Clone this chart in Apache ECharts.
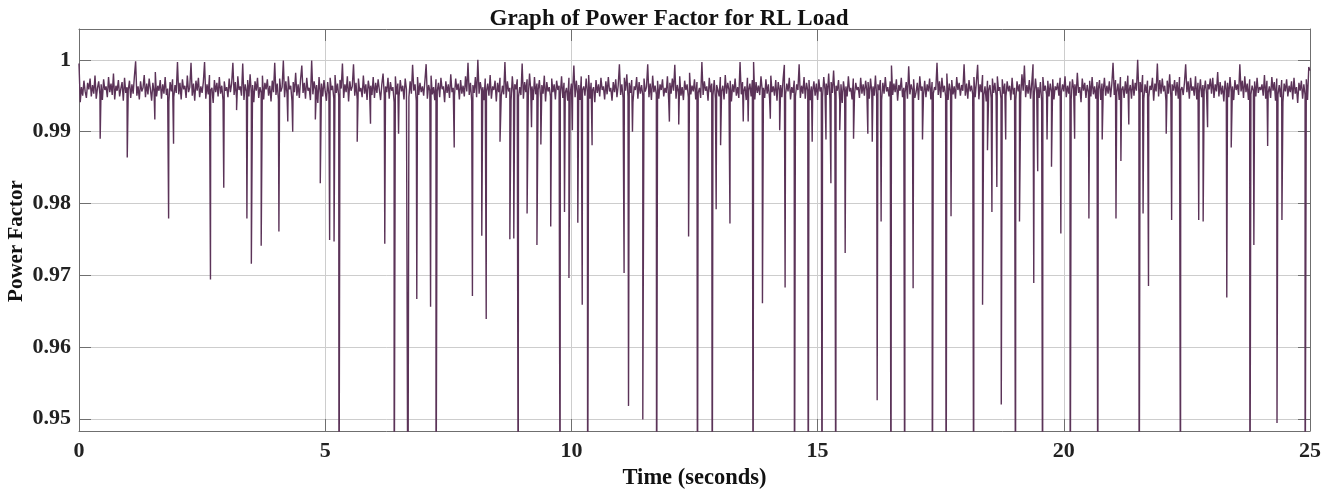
<!DOCTYPE html>
<html>
<head>
<meta charset="utf-8">
<script src="https://cdn.jsdelivr.net/npm/echarts@6/dist/echarts.min.js"></script>
<style>
html,body{margin:0;padding:0;background:#fff;}
#chart{width:1338px;height:493px;}
</style>
</head>
<body>
<div id="chart"></div>
<script>
// Sampling step of the baseline signal (seconds)
const baseStep = 0.025;

// Baseline power factor, one row per second (40 samples each)
const baseValues = [
0.9995,0.9941,0.9962,0.9950,0.9971,0.9956,0.9947,0.9968,0.9959,0.9974,0.9949,0.9965,0.9953,0.9978,0.9946,0.9961,0.9970,0.9952,0.9966,0.9944,0.9973,0.9958,0.9963,0.9948,0.9976,0.9955,0.9967,0.9951,0.9981,0.9945,0.9964,0.9957,0.9972,0.9949,0.9960,0.9969,0.9943,0.9975,0.9954,0.9962,
0.9958,0.9971,0.9947,0.9966,0.9953,0.9977,0.9998,0.9950,0.9963,0.9945,0.9970,0.9956,0.9961,0.9979,0.9948,0.9967,0.9952,0.9974,0.9959,0.9943,0.9968,0.9955,0.9983,0.9949,0.9964,0.9957,0.9972,0.9946,0.9966,0.9953,0.9976,0.9951,0.9960,0.9942,0.9969,0.9956,0.9973,0.9948,0.9965,0.9954,
0.9997,0.9952,0.9968,0.9945,0.9973,0.9959,0.9964,0.9947,0.9978,0.9955,0.9962,0.9996,0.9950,0.9967,0.9943,0.9971,0.9957,0.9975,0.9948,0.9963,0.9954,0.9969,0.9997,0.9946,0.9966,0.9952,0.9979,0.9958,0.9961,0.9940,0.9972,0.9955,0.9968,0.9949,0.9976,0.9953,0.9964,0.9944,0.9970,0.9957,
0.9962,0.9948,0.9974,0.9955,0.9967,0.9996,0.9951,0.9969,0.9946,0.9977,0.9958,0.9963,0.9950,0.9995,0.9944,0.9966,0.9956,0.9972,0.9949,0.9980,0.9953,0.9965,0.9941,0.9970,0.9957,0.9975,0.9947,0.9962,0.9954,0.9978,0.9945,0.9968,0.9959,0.9973,0.9950,0.9964,0.9942,0.9971,0.9955,0.9996,
0.9951,0.9967,0.9945,0.9974,0.9956,0.9962,0.9999,0.9948,0.9970,0.9953,0.9977,0.9959,0.9964,0.9943,0.9969,0.9955,0.9982,0.9950,0.9966,0.9947,0.9973,0.9992,0.9954,0.9968,0.9946,0.9975,0.9957,0.9961,0.9944,0.9999,0.9952,0.9970,0.9958,0.9965,0.9940,0.9976,0.9953,0.9967,0.9949,0.9972,
0.9956,0.9943,0.9969,0.9952,0.9975,0.9958,0.9964,0.9946,0.9979,0.9954,0.9967,0.9949,0.9972,0.9960,0.9995,0.9947,0.9966,0.9955,0.9977,0.9942,0.9970,0.9957,0.9963,0.9994,0.9950,0.9968,0.9945,0.9974,0.9956,0.9961,0.9948,0.9978,0.9953,0.9966,0.9944,0.9971,0.9959,0.9964,0.9951,0.9976,
0.9947,0.9968,0.9954,0.9973,0.9958,0.9944,0.9966,0.9981,0.9950,0.9963,0.9955,0.9975,0.9946,0.9969,0.9957,0.9962,0.9941,0.9977,0.9952,0.9967,0.9949,0.9972,0.9956,0.9964,0.9945,0.9974,0.9959,0.9961,0.9948,0.9970,0.9953,0.9993,0.9957,0.9966,0.9943,0.9976,0.9951,0.9968,0.9955,0.9963,
0.9950,0.9971,0.9994,0.9946,0.9965,0.9957,0.9978,0.9952,0.9962,0.9944,0.9973,0.9956,0.9968,0.9948,0.9975,0.9959,0.9963,0.9941,0.9970,0.9954,0.9966,0.9947,0.9980,0.9955,0.9961,0.9950,0.9974,0.9958,0.9967,0.9945,0.9972,0.9953,0.9964,0.9949,0.9977,0.9956,0.9996,0.9951,0.9968,0.9943,
0.9965,0.9954,0.9976,0.9948,1.0000,0.9953,0.9969,0.9957,0.9962,0.9944,0.9974,0.9956,0.9967,0.9950,0.9979,0.9946,0.9963,0.9958,0.9971,0.9942,0.9968,0.9955,0.9975,0.9949,0.9964,0.9952,0.9997,0.9947,0.9970,0.9956,0.9961,0.9943,0.9977,0.9954,0.9966,0.9959,0.9973,0.9948,0.9962,0.9951,
0.9995,0.9946,0.9969,0.9955,0.9973,0.9950,0.9981,0.9957,0.9963,0.9944,0.9976,0.9952,0.9967,0.9958,0.9972,0.9947,0.9965,0.9953,0.9978,0.9942,0.9969,0.9956,0.9962,0.9949,0.9974,0.9955,0.9966,0.9945,0.9971,0.9958,0.9964,0.9951,0.9977,0.9947,0.9968,0.9954,0.9961,0.9943,0.9975,0.9952,
0.9967,0.9956,0.9992,0.9948,0.9971,0.9953,0.9965,0.9944,0.9977,0.9958,0.9963,0.9950,0.9974,0.9955,0.9979,0.9946,0.9968,0.9957,0.9962,0.9941,0.9972,0.9954,0.9966,0.9949,0.9975,0.9958,0.9963,0.9945,0.9970,0.9952,0.9976,0.9956,0.9961,0.9943,0.9969,0.9955,0.9973,0.9948,0.9964,0.9994,
0.9951,0.9966,0.9947,0.9975,0.9957,0.9980,0.9949,0.9968,0.9954,0.9972,0.9941,0.9963,0.9958,0.9976,0.9946,0.9969,0.9953,0.9965,0.9950,0.9974,0.9956,0.9962,0.9994,0.9948,0.9967,0.9944,0.9978,0.9955,0.9964,0.9952,0.9971,0.9946,0.9966,0.9958,0.9973,0.9949,0.9961,0.9954,0.9977,0.9945,
0.9968,0.9953,0.9974,0.9957,0.9993,0.9946,0.9965,0.9955,0.9977,0.9950,0.9962,0.9944,0.9971,0.9958,0.9966,0.9948,0.9982,0.9952,0.9964,0.9956,0.9973,0.9945,0.9969,0.9954,0.9961,0.9947,0.9997,0.9951,0.9970,0.9957,0.9963,0.9943,0.9975,0.9955,0.9967,0.9950,0.9972,0.9946,0.9965,0.9958,
0.9949,0.9976,0.9956,0.9964,0.9945,0.9979,0.9953,0.9968,0.9958,0.9971,0.9942,0.9966,0.9955,0.9974,0.9950,0.9962,0.9947,0.9997,0.9952,0.9969,0.9956,0.9963,0.9944,0.9975,0.9957,0.9967,0.9949,0.9972,0.9997,0.9945,0.9969,0.9954,0.9964,0.9951,0.9977,0.9958,0.9961,0.9947,0.9973,0.9953,
0.9966,0.9946,0.9978,0.9955,0.9963,0.9950,0.9972,0.9943,0.9969,0.9957,0.9965,0.9948,0.9974,0.9993,0.9952,0.9967,0.9956,0.9975,0.9945,0.9962,0.9954,0.9971,0.9949,0.9966,0.9958,0.9994,0.9947,0.9964,0.9953,0.9976,0.9946,0.9968,0.9957,0.9972,0.9944,0.9963,0.9955,0.9970,0.9950,0.9967,
0.9944,0.9973,0.9956,0.9962,0.9948,0.9976,0.9958,0.9967,0.9951,0.9981,0.9946,0.9969,0.9954,0.9985,0.9950,0.9964,0.9957,0.9972,0.9943,0.9966,0.9940,0.9970,0.9955,0.9963,0.9949,0.9977,0.9956,0.9961,0.9945,0.9974,0.9952,0.9968,0.9958,0.9962,0.9947,0.9975,0.9953,0.9966,0.9950,0.9971,
0.9957,0.9969,0.9946,0.9974,0.9955,0.9963,0.9950,0.9978,0.9947,0.9966,0.9958,0.9972,0.9944,0.9968,0.9953,0.9976,0.9956,0.9962,0.9949,0.9970,0.9992,0.9951,0.9967,0.9955,0.9973,0.9943,0.9965,0.9957,0.9975,0.9948,0.9961,0.9954,0.9969,0.9946,0.9991,0.9952,0.9966,0.9958,0.9973,0.9947,
0.9955,0.9968,0.9944,0.9977,0.9957,0.9963,0.9950,0.9971,0.9948,0.9966,0.9956,0.9974,0.9945,0.9969,0.9953,0.9962,0.9958,0.9996,0.9951,0.9970,0.9947,0.9975,0.9955,0.9964,0.9949,0.9981,0.9944,0.9967,0.9956,0.9972,0.9952,0.9963,0.9946,0.9976,0.9958,0.9968,0.9950,0.9965,0.9957,0.9994,
0.9950,0.9967,0.9946,0.9972,0.9956,0.9964,0.9952,0.9976,0.9948,0.9969,0.9993,0.9945,0.9966,0.9955,0.9979,0.9951,0.9963,0.9942,0.9971,0.9958,0.9965,0.9947,0.9974,0.9954,0.9968,0.9950,0.9977,0.9957,0.9962,0.9946,0.9973,0.9953,0.9967,0.9949,0.9970,0.9956,0.9964,0.9944,0.9975,0.9952,
0.9961,0.9944,0.9970,0.9956,0.9966,0.9950,0.9980,0.9957,0.9992,0.9948,0.9965,0.9953,0.9972,0.9946,0.9968,0.9994,0.9951,0.9974,0.9955,0.9962,0.9947,0.9969,0.9943,0.9976,0.9957,0.9964,0.9952,0.9971,0.9949,0.9967,0.9955,0.9973,0.9945,0.9963,0.9958,0.9968,0.9950,0.9975,0.9954,0.9966,
0.9956,0.9977,0.9948,0.9964,0.9953,0.9970,0.9945,0.9973,0.9959,0.9966,0.9950,0.9982,0.9954,0.9962,0.9941,0.9974,0.9957,0.9968,0.9947,0.9965,0.9955,0.9971,0.9949,0.9976,0.9952,0.9963,0.9946,0.9969,0.9958,0.9972,0.9944,0.9967,0.9956,0.9975,0.9950,0.9964,0.9953,0.9970,0.9948,0.9966,
0.9996,0.9951,0.9972,0.9955,0.9967,0.9944,0.9976,0.9958,0.9963,0.9947,0.9970,0.9953,0.9978,0.9956,0.9965,0.9946,0.9973,0.9950,0.9968,0.9957,1.0000,0.9952,0.9969,0.9955,0.9979,0.9946,0.9966,0.9954,0.9971,0.9948,0.9964,0.9958,0.9975,0.9943,0.9967,0.9956,0.9995,0.9949,0.9972,0.9953,
0.9974,0.9956,0.9964,0.9943,0.9971,0.9953,0.9980,0.9948,0.9966,0.9957,0.9972,0.9950,0.9969,0.9946,0.9976,0.9958,0.9962,0.9951,0.9968,0.9994,0.9955,0.9970,0.9946,0.9975,0.9957,0.9963,0.9950,0.9977,0.9945,0.9968,0.9954,0.9973,0.9948,0.9965,0.9956,0.9971,0.9952,0.9966,0.9959,0.9974,
0.9953,0.9975,0.9947,0.9966,0.9956,0.9983,0.9949,0.9969,0.9952,0.9964,0.9942,0.9971,0.9957,0.9968,0.9948,0.9976,0.9955,0.9963,0.9944,0.9972,0.9958,0.9966,0.9951,0.9994,0.9956,0.9971,0.9947,0.9977,0.9955,0.9967,0.9944,0.9973,0.9952,0.9964,0.9957,0.9970,0.9949,0.9975,0.9954,0.9962,
0.9958,0.9966,0.9950,0.9979,0.9946,0.9971,0.9954,0.9963,0.9947,0.9976,0.9957,0.9969,0.9943,0.9974,0.9952,0.9965,0.9948,0.9972,0.9941,0.9967,0.9956,0.9973,0.9949,0.9964,0.9955,0.9970,0.9945,0.9975,0.9953,0.9962,0.9940,0.9968,0.9957,0.9971,0.9946,0.9966,0.9951,0.9973,0.9944,0.9990,
0.9985
];

// Short dips (spikes downwards): time in seconds and lowest value reached
const dipTimes = [
0.43,0.98,1.54,1.82,1.92,2.67,2.94,3.20,3.41,3.50,3.70,4.06,4.24,4.34,4.80,4.90,
5.09,5.18,5.28,5.65,5.92,6.21,6.40,6.49,6.68,6.86,7.14,7.25,7.62,7.99,8.18,8.27,8.55,8.75,8.83,8.92,
9.10,9.19,9.30,9.38,9.58,9.77,9.86,9.95,10.02,10.13,10.22,10.33,10.42,11.07,11.16,11.24,11.45,11.73,
11.99,12.18,12.38,12.56,12.86,12.94,13.03,13.22,13.49,13.59,13.69,13.88,14.04,14.23,14.34,14.53,14.81,14.89,
15.09,15.17,15.27,15.37,15.45,15.56,15.73,16.02,16.11,16.21,16.29,16.49,16.77,16.94,17.13,17.33,17.61,17.71,
18.17,18.35,18.45,18.54,18.64,18.73,18.82,19.02,19.10,19.39,19.47,19.57,19.66,19.75,19.94,
20.13,20.22,20.51,20.69,20.78,21.06,21.16,21.32,21.53,21.61,21.72,22.08,22.19,22.37,22.74,22.83,22.92,
23.31,23.40,23.78,23.86,24.14,24.33,24.43,24.90
];
const dipValues = [
0.9890,0.9864,0.9917,0.9779,0.9883,0.9694,0.9822,0.9930,0.9779,0.9716,0.9741,0.9761,0.9914,0.9900,0.9917,0.9828,
0.9749,0.9747,0.9300,0.9886,0.9911,0.9744,0.9300,0.9897,0.9300,0.9667,0.9656,0.9300,0.9878,0.9671,0.9755,0.9639,0.9886,0.9750,0.9751,0.9300,
0.9786,0.9906,0.9742,0.9882,0.9768,0.9300,0.9788,0.9696,0.9902,0.9773,0.9659,0.9300,0.9881,0.9703,0.9518,0.9900,0.9499,0.9300,
0.9914,0.9910,0.9754,0.9300,0.9300,0.9792,0.9881,0.9772,0.9914,0.9914,0.9300,0.9661,0.9918,0.9902,0.9683,0.9300,0.9300,0.9886,
0.9300,0.9889,0.9828,0.9300,0.9902,0.9731,0.9890,0.9897,0.9886,0.9526,0.9775,0.9300,0.9300,0.9682,0.9889,0.9300,0.9300,0.9782,
0.9300,0.9659,0.9874,0.9788,0.9823,0.9520,0.9889,0.9300,0.9775,0.9689,0.9845,0.9300,0.9889,0.9851,0.9758,
0.9300,0.9890,0.9779,0.9300,0.9889,0.9779,0.9859,0.9910,0.9300,0.9786,0.9685,0.9897,0.9777,0.9300,0.9777,0.9775,0.9906,
0.9669,0.9878,0.9300,0.9742,0.9880,0.9494,0.9777,0.9300
];

// Build the table: baseline samples merged with dip samples in time order
const points = [];
baseValues.forEach((v, i) => points.push([+(i * baseStep).toFixed(3), v, 0]));
dipTimes.forEach((t, i) => points.push([t, dipValues[i], 1]));
points.sort((a, b) => a[0] - b[0] || a[2] - b[2]);
const seriesData = points.map(p => [p[0], p[1]]);

const frameColor = '#6f6f6f';
const gridColor = '#cdcdcd';
const fontFam = '"Liberation Serif", "Times New Roman", serif';

const chart = echarts.init(document.getElementById('chart'), null, {renderer: 'canvas'});
chart.setOption({
  animation: false,
  backgroundColor: '#ffffff',
  title: {
    text: 'Graph of Power Factor for RL Load',
    left: 'center',
    top: 3,
    textStyle: {fontFamily: fontFam, fontWeight: 'bold', fontSize: 23, color: '#111'}
  },
  grid: {left: 79, right: 28, top: 29, bottom: 62, containLabel: false, outerBoundsMode: 'none'},
  graphic: [{
    type: 'text',
    x: 17, y: 241, rotation: Math.PI / 2,
    style: {text: 'Power Factor', fontFamily: fontFam, fontWeight: 'bold', fontSize: 21,
      fill: '#111', align: 'center', verticalAlign: 'middle'}
  }],
  xAxis: [{
    type: 'value', min: 0, max: 25, interval: 5,
    name: 'Time (seconds)', nameLocation: 'middle', nameGap: 35,
    nameTextStyle: {fontFamily: fontFam, fontWeight: 'bold', fontSize: 22.5, color: '#111'},
    axisLine: {show: true, onZero: false, lineStyle: {color: frameColor, width: 1}},
    axisTick: {show: true, inside: true, length: 12, lineStyle: {color: frameColor}},
    axisLabel: {fontFamily: fontFam, fontWeight: 'bold', fontSize: 22, color: '#222', margin: 9},
    splitLine: {show: true, lineStyle: {color: gridColor, width: 1}}
  }, {
    type: 'value', min: 0, max: 25, interval: 5, position: 'top',
    axisLine: {show: true, onZero: false, lineStyle: {color: frameColor, width: 1}},
    axisTick: {show: true, inside: true, length: 12, lineStyle: {color: frameColor}},
    axisLabel: {show: false}, splitLine: {show: false}
  }],
  yAxis: [{
    type: 'value', min: 0.9483, max: 1.0043, splitNumber: 5,
    axisLine: {show: true, onZero: false, lineStyle: {color: frameColor, width: 1}},
    axisTick: {show: true, inside: true, length: 12, lineStyle: {color: frameColor}},
    axisLabel: {fontFamily: fontFam, fontWeight: 'bold', fontSize: 22, color: '#222', margin: 8,
      showMinLabel: false, showMaxLabel: false},
    splitLine: {show: true, lineStyle: {color: gridColor, width: 1}}
  }, {
    type: 'value', min: 0.9483, max: 1.0043, splitNumber: 5, position: 'right',
    axisLine: {show: true, onZero: false, lineStyle: {color: frameColor, width: 1}},
    axisTick: {show: true, inside: true, length: 12, lineStyle: {color: frameColor}},
    axisLabel: {show: false}, splitLine: {show: false}
  }],
  series: [{
    type: 'line',
    data: seriesData,
    showSymbol: false,
    symbol: 'none',
    sampling: null,
    clip: true,
    lineStyle: {color: '#5b3358', width: 1.4},
    z: 3
  }]
});
</script>
</body>
</html>
